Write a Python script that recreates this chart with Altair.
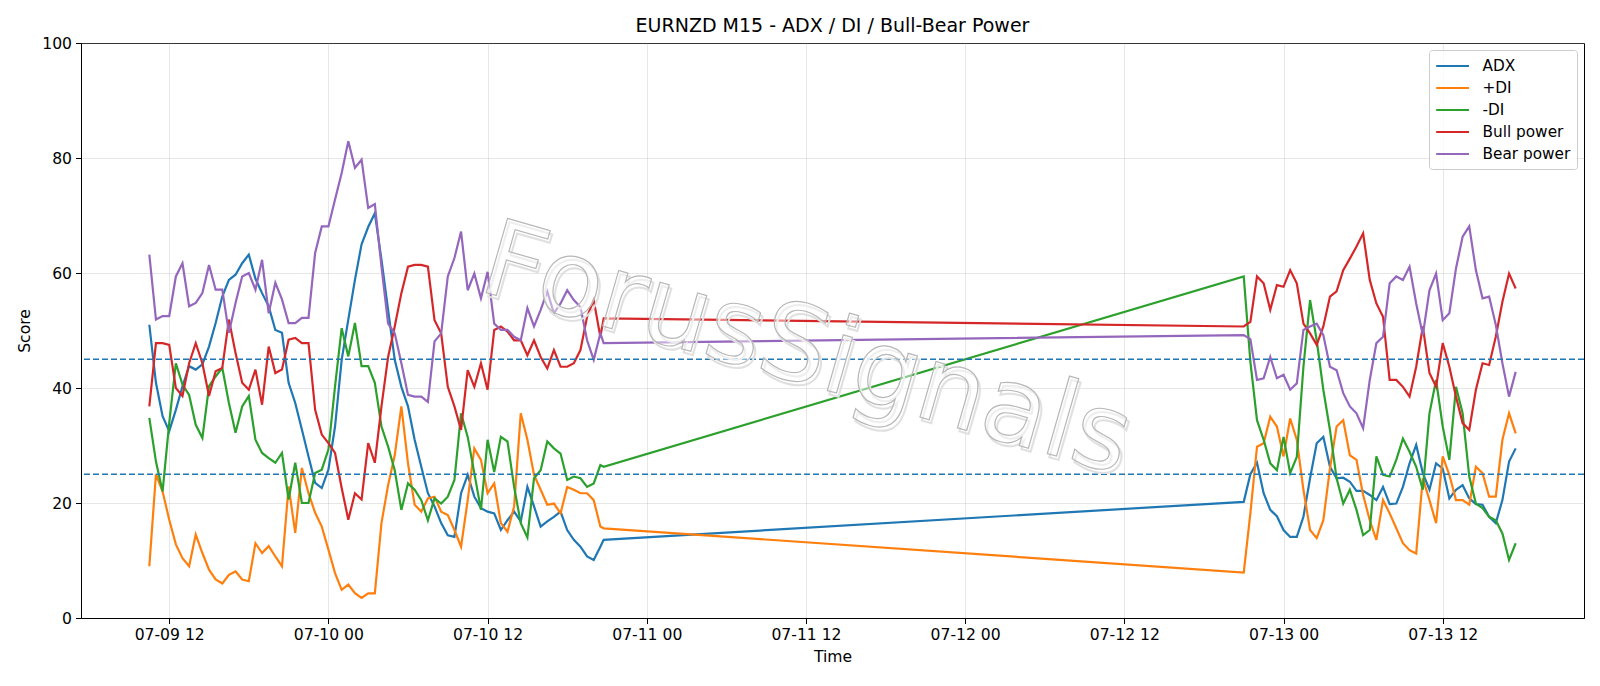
import altair as alt
import pandas as pd

# ---------------- data ----------------
SERIES = ["ADX", "+DI", "-DI", "Bull power", "Bear power"]
COLORS = ["#1f77b4", "#ff7f0e", "#2ca02c", "#d62728", "#9467bd"]

seg1_times = pd.date_range("2020-07-09 10:30", "2020-07-10 20:30", freq="30min").append(
    pd.DatetimeIndex(["2020-07-10 20:45"]))
seg2_times = pd.date_range("2020-07-12 21:00", "2020-07-13 17:30", freq="30min")
times = seg1_times.append(seg2_times)

adx = [51.0, 40.9, 35.1, 32.5, 36.2, 40.3, 43.8, 43.2, 44.1, 47.2, 51.3, 55.9, 58.8, 59.7, 61.7, 63.2, 59.0,
       56.5, 54.2, 50.1, 49.6, 40.9, 37.4, 32.8, 28.1, 23.5, 22.6, 25.8, 33.3, 44.9, 51.9, 58.8, 65.0, 68.0, 70.4,
       62.3, 53.6, 44.9, 40.2, 36.8, 31.0, 26.3, 21.7, 19.4, 16.5, 14.4, 14.1, 21.7, 24.9, 21.1, 19.1, 18.5,
       18.2, 15.3, 17.0, 18.5, 16.8, 22.8, 19.4, 15.9, 16.8, 17.6, 18.5, 15.3, 13.6, 12.4, 10.7, 10.1, 12.4, 13.6,
       20.2, 25.0, 27.0, 21.7, 18.8, 17.7, 15.3, 14.1, 14.1, 17.6, 24.3, 30.4, 31.5, 26.3,
       24.3, 24.4, 23.7, 22.1, 22.1, 21.4, 20.5, 22.8, 19.8, 19.9, 22.8, 26.9, 30.1, 25.2,
       22.3, 26.9, 26.0, 20.8, 22.3, 23.1, 20.8, 19.8, 19.7, 17.6, 16.5, 20.5, 27.2, 29.5]

plus_di = [9.0, 25.0, 22.0, 17.1, 12.8, 10.4, 9.0, 14.5, 11.3, 8.4, 6.7, 6.0, 7.5, 8.1, 6.7, 6.4, 13.0,
           11.3, 12.5, 10.7, 9.0, 22.9, 14.8, 26.1, 21.7, 18.3, 15.9, 11.9, 7.8, 4.9, 5.8, 4.3, 3.5, 4.3, 4.3,
           16.5, 23.1, 28.3, 36.8, 26.9, 19.7, 18.5, 20.8, 21.1, 18.5, 17.9, 15.3, 12.4, 20.5, 29.5, 27.5, 21.7,
           23.4, 16.5, 15.0, 19.4, 35.6, 31.0, 24.9, 22.3, 19.7, 19.9, 18.2, 22.8, 22.3, 21.7, 21.7, 20.5, 15.9, 15.6,
           7.9, 18.2, 29.8, 30.4, 35.0, 33.3, 28.1, 34.7, 31.0, 22.3, 15.3, 13.9, 17.0, 26.0,
           33.3, 34.4, 28.3, 27.5, 21.4, 17.0, 13.6, 20.5, 18.2, 15.6, 13.0, 11.8, 11.2, 24.3,
           20.5, 16.5, 28.1, 24.9, 20.5, 20.5, 19.7, 26.3, 25.2, 21.1, 21.1, 31.0, 35.6, 32.1]

minus_di = [34.8, 27.2, 22.0, 33.9, 44.3, 40.6, 38.8, 33.6, 31.3, 40.3, 42.0, 43.5, 37.4, 32.2, 36.8, 38.6, 31.0,
            28.7, 27.8, 27.0, 28.7, 20.6, 27.0, 20.0, 20.0, 25.2, 25.8, 29.3, 40.3, 50.4, 45.5, 51.3, 43.8, 43.8, 40.9,
            33.3, 29.8, 25.7, 18.8, 23.4, 22.3, 20.5, 17.0, 20.8, 19.9, 21.1, 24.0, 35.6, 31.5, 25.2, 18.8, 31.0,
            25.4, 31.5, 30.7, 22.8, 16.5, 14.0, 24.3, 25.7, 30.7, 29.5, 28.6, 24.0, 24.6, 24.3, 22.8, 23.4, 26.6, 26.3,
            59.4, 44.6, 34.4, 31.0, 26.9, 25.7, 31.5, 25.2, 28.0, 43.7, 55.3, 48.3, 39.7, 32.7,
            24.3, 19.9, 22.3, 18.8, 14.4, 15.3, 28.1, 24.9, 24.6, 27.5, 31.2, 28.9, 26.3, 22.3,
            35.6, 41.4, 33.3, 27.5, 40.2, 35.6, 24.6, 19.9, 19.1, 17.6, 17.0, 14.7, 10.1, 13.0]

bull = [36.8, 47.8, 47.8, 47.5, 40.0, 38.6, 44.3, 47.8, 44.3, 38.6, 42.9, 43.5, 51.9, 46.1, 40.9, 39.7, 43.2,
        37.1, 47.2, 42.6, 43.2, 48.4, 48.7, 47.8, 47.8, 36.2, 31.9, 30.4, 28.7, 22.6, 17.1, 21.7, 20.6, 30.4, 27.0,
        36.8, 45.4, 50.7, 56.5, 61.1, 61.4, 61.4, 61.1, 51.8, 49.5, 40.2, 36.8, 32.7, 43.1, 40.2, 44.3, 39.7,
        50.1, 50.7, 49.8, 48.3, 48.3, 45.7, 48.3, 45.4, 43.4, 46.6, 43.7, 43.7, 44.3, 46.6, 52.4, 55.3, 48.9, 52.1,
        50.7, 51.5, 59.4, 58.2, 53.6, 57.9, 57.6, 60.5, 58.2, 51.2, 49.5, 47.5, 50.7, 55.9,
        56.8, 60.5, 62.5, 64.6, 66.9, 58.8, 54.7, 52.4, 41.4, 41.4, 40.2, 38.5, 43.7, 50.7,
        42.6, 40.2, 47.8, 43.7, 38.5, 33.9, 32.7, 39.7, 44.3, 44.0, 48.9, 55.0, 59.9, 57.3]

bear = [63.2, 51.9, 52.5, 52.5, 59.4, 61.7, 54.2, 54.8, 56.5, 61.4, 57.1, 57.1, 49.6, 54.8, 59.4, 60.0, 57.1,
        62.3, 53.0, 58.3, 55.4, 51.3, 51.3, 52.2, 52.2, 63.5, 68.1, 68.1, 72.8, 77.4, 82.9, 78.3, 79.7, 71.3, 72.0,
        61.1, 51.2, 49.5, 44.3, 38.8, 38.5, 38.5, 37.6, 48.1, 49.5, 59.4, 62.6, 67.2, 57.0, 59.9, 55.6, 60.2,
        51.2, 50.1, 50.1, 48.9, 48.3, 53.9, 50.7, 53.6, 56.8, 53.0, 54.7, 57.0, 55.3, 54.1, 48.3, 44.9, 49.5, 47.8,
        49.2, 48.5, 41.4, 41.7, 45.4, 41.7, 42.3, 39.7, 40.8, 50.1, 50.7, 51.2, 49.2, 43.7,
        43.1, 39.1, 36.8, 35.6, 33.0, 41.4, 47.8, 48.9, 58.2, 59.4, 58.8, 61.1, 54.7, 49.2,
        57.0, 59.9, 51.8, 53.0, 60.8, 66.3, 68.1, 60.5, 55.6, 55.9, 51.0, 44.3, 38.5, 42.8]

LEVELS = [45, 25]
WATERMARK = "ForusSignals"
TICK_TIMES = ["2020-07-09 12:00", "2020-07-10 00:00", "2020-07-10 12:00", "2020-07-11 00:00",
              "2020-07-11 12:00", "2020-07-12 00:00", "2020-07-12 12:00", "2020-07-13 00:00",
              "2020-07-13 12:00"]

# ---------------- tables ----------------
rows = []
for name, vals in zip(SERIES, [adx, plus_di, minus_di, bull, bear]):
    for t, v in zip(times, vals):
        rows.append({"time": t.strftime("%Y-%m-%dT%H:%M:%S"), "series": name, "value": v})
df = pd.DataFrame(rows)

levels_df = pd.DataFrame({"level": LEVELS})

tmin, tmax = times.min(), times.max()
pad = (tmax - tmin) * 0.05
d0, d1 = tmin - pad, tmax + pad


def dt(ts):
    ts = pd.Timestamp(ts)
    return alt.DateTime(year=int(ts.year), month=int(ts.month), date=int(ts.day),
                        hours=int(ts.hour), minutes=int(ts.minute))


wm_time = tmin + (tmax - tmin) * 0.481
wm_df = pd.DataFrame({"time": [wm_time.strftime("%Y-%m-%dT%H:%M:%S")], "value": [46.4],
                      "text": [WATERMARK]})

FONT = "DejaVu Sans"
LABEL_SIZE = 15.6

x_enc = alt.X("time:T", scale=alt.Scale(domain=[dt(d0), dt(d1)]),
              axis=alt.Axis(title="Time", format="%m-%d %H",
                            values=[dt(t) for t in TICK_TIMES],
                            labelFlush=False))
y_enc = alt.Y("value:Q", scale=alt.Scale(domain=[0, 100], nice=False),
              axis=alt.Axis(title="Score", values=[0, 20, 40, 60, 80, 100]))

lines = alt.Chart(df).mark_line(strokeWidth=2.2).encode(
    x=x_enc,
    y=y_enc,
    color=alt.Color("series:N", scale=alt.Scale(domain=SERIES, range=COLORS),
                    legend=alt.Legend(title=None)),
)

rules = alt.Chart(levels_df).mark_rule(color="#1f77b4", strokeWidth=1.5, strokeDash=[6, 3]).encode(
    y="level:Q"
)

wm_shadow = alt.Chart(wm_df).mark_text(
    angle=16, fontSize=106, font=FONT, fill="transparent", stroke="#e0e0e0",
    strokeWidth=2.0, align="center", baseline="middle", dx=3, dy=3
).encode(x="time:T", y="value:Q", text="text:N")

wm_top = alt.Chart(wm_df).mark_text(
    angle=16, fontSize=106, font=FONT, fill="#ffffff", fillOpacity=0.45,
    stroke="#b8b8b8", strokeWidth=1.2, align="center", baseline="middle"
).encode(x="time:T", y="value:Q", text="text:N")

chart = alt.layer(lines, rules, wm_shadow, wm_top).properties(
    width=1503,
    height=575,
    title=alt.TitleParams("EURNZD M15 - ADX / DI / Bull-Bear Power", anchor="middle",
                          baseline="alphabetic", offset=10, frame="group", dy=25),
    autosize=alt.AutoSizeParams(type="none"),
    padding={"left": 81, "top": 43, "right": 16, "bottom": 68},
).configure_view(
    stroke="black", strokeWidth=1
).configure_axis(
    domainColor="black", tickColor="black", labelColor="black", titleColor="black",
    labelFont=FONT, titleFont=FONT, labelFontSize=LABEL_SIZE, titleFontSize=LABEL_SIZE,
    titleFontWeight="normal", gridColor="#b0b0b0", gridOpacity=0.3, gridWidth=1,
    tickSize=5.5, labelPadding=4, domainWidth=1,
).configure_axisX(
    titlePadding=6
).configure_axisY(
    titlePadding=9
).configure_title(
    font=FONT, fontSize=19, fontWeight="normal", color="black"
).configure_legend(
    orient="top-right", offset=7, padding=6.5, rowPadding=4,
    symbolType="M-1.1,0H3", symbolSize=256, symbolStrokeWidth=2.2,
    labelFont=FONT, labelFontSize=15.3, labelOffset=28, labelColor="black",
    fillColor="rgba(255,255,255,0.8)", strokeColor="#cccccc", cornerRadius=3,
)

chart.save("out.html", embed_options={"renderer": "svg", "actions": False})
